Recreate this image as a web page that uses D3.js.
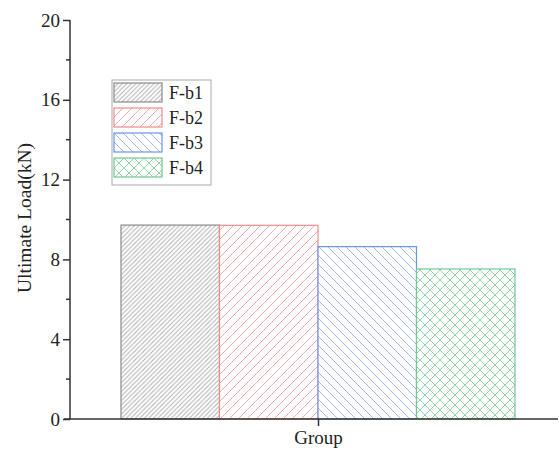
<!DOCTYPE html>
<html>
<head>
<meta charset="utf-8">
<script src="https://cdn.jsdelivr.net/npm/d3@7"></script>
<style>
  body { margin: 0; background: #fff; }
  svg { font-family: "Liberation Serif", "Times New Roman", serif; }
</style>
</head>
<body>
<svg id="chart" width="559" height="452"></svg>
<script>
// Ultimate load per specimen, one group
const specimens = ["F-b1", "F-b2", "F-b3", "F-b4"];
const ultimateLoad = [9.72, 9.71, 8.64, 7.52];
const groupLabels = ["Group"];
const yTicks = [0, 4, 8, 12, 16, 20];
const yMinorTicks = [2, 6, 10, 14, 18];

const strokeCol = { "F-b1": "#8a8a8a", "F-b2": "#f08a8a", "F-b3": "#6b93e6", "F-b4": "#72c792" };
const lineCol   = { "F-b1": "#b0b0b0", "F-b2": "#f5a8a8", "F-b3": "#a3b9ee", "F-b4": "#93d4ab" };

const svg = d3.select("#chart");
const axisX = 70, axisRight = 558;

const y = d3.scaleLinear().domain([0, 20]).range([419, 20]);
const x = d3.scaleBand().domain(specimens).range([121, 515]).padding(0);
const xg = d3.scalePoint().domain(groupLabels).range([121, 515]).padding(0.5);

// hatch patterns
const defs = svg.append("defs");
function hatch(id, spacing, dirs, col) {
  const p = defs.append("pattern").attr("id", id)
    .attr("patternUnits", "userSpaceOnUse")
    .attr("width", spacing).attr("height", spacing);
  p.append("rect").attr("width", spacing).attr("height", spacing).attr("fill", "#fff");
  const s = spacing;
  dirs.forEach((d) => {
    const path = d === "/"
      ? `M0,${s} L${s},0 M${-s / 2},${s / 2} L${s / 2},${-s / 2} M${s / 2},${s * 1.5} L${s * 1.5},${s / 2}`
      : `M0,0 L${s},${s} M${-s / 2},${s / 2} L${s / 2},${s * 1.5} M${s / 2},${-s / 2} L${s * 1.5},${s / 2}`;
    p.append("path").attr("d", path).attr("stroke", col).attr("stroke-width", 1);
  });
}
hatch("pat-F-b1", 4.5, ["/"], lineCol["F-b1"]);
hatch("pat-F-b2", 9, ["/"], lineCol["F-b2"]);
hatch("pat-F-b3", 9, ["\\"], lineCol["F-b3"]);
hatch("pat-F-b4", 10, ["/", "\\"], lineCol["F-b4"]);

// bars
svg.append("g").selectAll("rect")
  .data(specimens)
  .join("rect")
  .attr("x", (d) => x(d))
  .attr("width", x.bandwidth())
  .attr("y", (d, i) => y(ultimateLoad[i]))
  .attr("height", (d, i) => y(0) - y(ultimateLoad[i]))
  .attr("fill", (d) => `url(#pat-${d})`)
  .attr("stroke", (d) => strokeCol[d])
  .attr("stroke-width", 1.2);

// y axis
const yAxis = svg.append("g").attr("transform", `translate(${axisX},0)`)
  .call(d3.axisLeft(y).tickValues(yTicks).tickSize(7).tickPadding(3).tickFormat(d3.format("d")));
yAxis.select(".domain").remove();
yAxis.selectAll("line").attr("stroke", "#333").attr("stroke-width", 1.5);
yAxis.selectAll("text").attr("font-size", 19).attr("fill", "#222")
  .attr("font-family", "Liberation Serif, serif");
svg.append("g").selectAll("line").data(yMinorTicks).join("line")
  .attr("x1", axisX - 4).attr("x2", axisX)
  .attr("y1", (d) => y(d)).attr("y2", (d) => y(d))
  .attr("stroke", "#333").attr("stroke-width", 1.5);
svg.append("line").attr("x1", axisX).attr("x2", axisX)
  .attr("y1", y(20)).attr("y2", y(0)).attr("stroke", "#333").attr("stroke-width", 1.5);

// x axis
const xAxis = svg.append("g").attr("transform", `translate(0,${y(0)})`)
  .call(d3.axisBottom(xg).tickSize(7).tickPadding(5));
xAxis.select(".domain").remove();
xAxis.selectAll("line").attr("stroke", "#333").attr("stroke-width", 1.5);
xAxis.selectAll("text").attr("font-size", 19).attr("fill", "#222")
  .attr("font-family", "Liberation Serif, serif");
svg.append("line").attr("x1", axisX - 6).attr("x2", axisRight)
  .attr("y1", y(0)).attr("y2", y(0)).attr("stroke", "#333").attr("stroke-width", 1.5);

// y label
svg.append("text")
  .attr("transform", "translate(31,218) rotate(-90)")
  .attr("text-anchor", "middle")
  .attr("font-size", 19.5).attr("fill", "#222")
  .text("Ultimate Load(kN)");

// legend
const lg = svg.append("g").attr("transform", "translate(112,80)");
lg.append("rect").attr("width", 99).attr("height", 105)
  .attr("fill", "#fff").attr("stroke", "#aaa").attr("stroke-width", 1);
const items = lg.selectAll("g.item").data(specimens).join("g")
  .attr("class", "item")
  .attr("transform", (d, i) => `translate(2,${3 + i * 25})`);
items.append("rect").attr("width", 48).attr("height", 19)
  .attr("fill", (d) => `url(#pat-${d})`)
  .attr("stroke", (d) => strokeCol[d]).attr("stroke-width", 1.2);
items.append("text").attr("x", 55).attr("y", 16)
  .attr("font-size", 18).attr("fill", "#222")
  .text((d) => d);
</script>
</body>
</html>
